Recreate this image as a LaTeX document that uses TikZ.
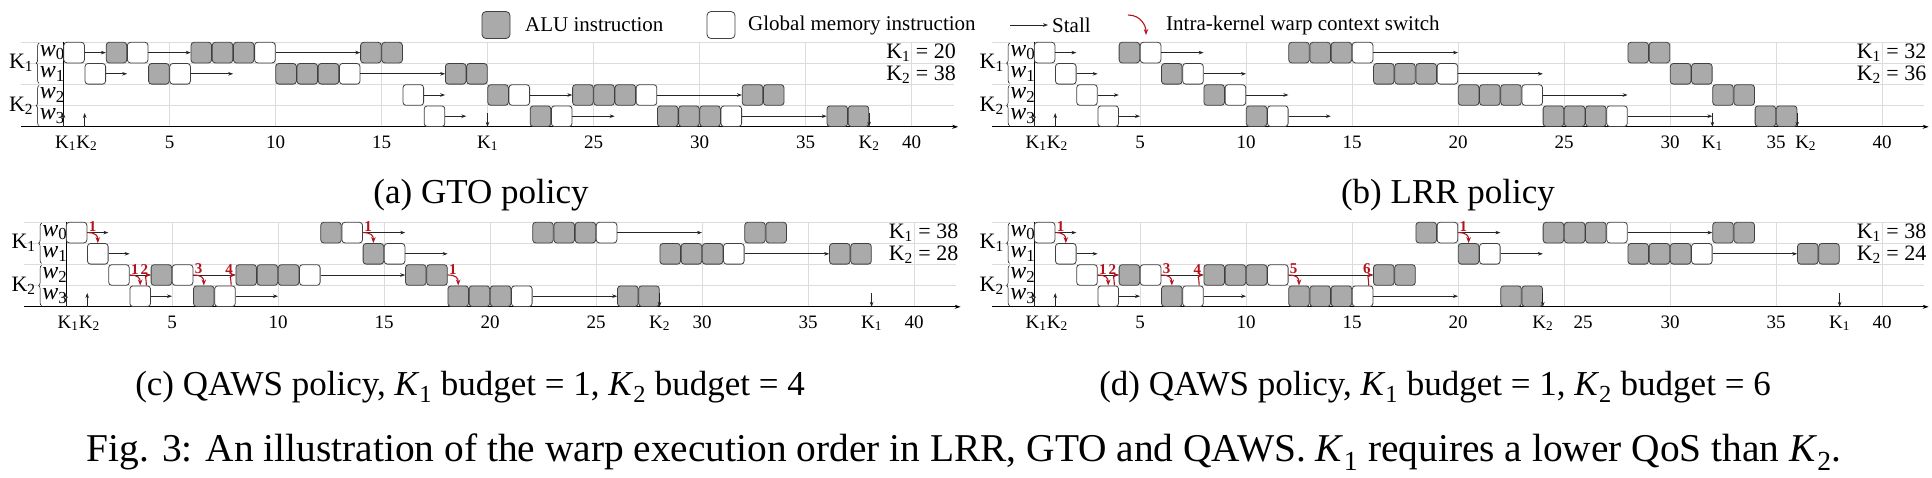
\documentclass[tikz,border=0pt]{standalone}
\usepackage{fontspec}
\setmainfont{Liberation Serif}
\usetikzlibrary{arrows.meta}
\usetikzlibrary{decorations.pathreplacing}

\definecolor{alufill}{HTML}{AAAAAA}
\definecolor{swred}{HTML}{B3121D}
\definecolor{gridgray}{HTML}{DCDCDC}

\tikzset{
  slot/.style={draw=black!75, line width=0.8pt, rounded corners=3pt, minimum size=20.6pt, inner sep=0pt},
  alubox/.style={slot, fill=alufill},
  membox/.style={slot, fill=white},
  stall/.style={-{Stealth[length=5pt,width=3.6pt]}, black!85, line width=0.7pt},
  switch/.style={-{Stealth[length=6pt,width=4.5pt]}, swred, line width=1.1pt},
  swnum/.style={swred, font=\fontsize{15}{15}\selectfont\bfseries, inner sep=0pt},
  ticklab/.style={font=\fontsize{19}{19}\selectfont, inner sep=0pt, anchor=base},
  rowlab/.style={font=\fontsize{24}{24}\selectfont, inner sep=0pt, anchor=west},
  kerlab/.style={font=\fontsize{22}{22}\selectfont, inner sep=0pt, anchor=east},
  budget/.style={font=\fontsize{22}{22}\selectfont, inner sep=0pt, anchor=east},
  legtext/.style={font=\fontsize{21}{21}\selectfont, inner sep=0pt, anchor=west},
  subcap/.style={font=\fontsize{35}{35}\selectfont, inner sep=0pt},
  frame/.style={gridgray, line width=0.8pt}
}

\begin{document}
\begin{tikzpicture}[x=1pt, y=-1pt]
\useasboundingbox (0,0) rectangle (1932,477);

% legend
\node[alubox, minimum width=28pt, minimum height=27pt, rounded corners=4pt] (lg-alu) at (496,25) {};
\node[legtext] (lg-alut) at (525,25) {ALU instruction};
\node[membox, minimum width=28pt, minimum height=27pt, rounded corners=4pt] (lg-mem) at (721,25) {};
\node[legtext] (lg-memt) at (748,25) {Global memory instruction};
\coordinate (lg-s) at (1010,25);
\node[legtext] (lg-stall) at (1052,25) {Stall};
\draw[stall, shorten >=4pt] (lg-s) -- (lg-stall.west);
\coordinate (lg-r1) at (1128,15);
\coordinate (lg-r2) at (1146,35);
\draw[switch] (lg-r1) .. controls +(13,0) and +(0,-9) .. (lg-r2);
\node[legtext] (lg-sw) at (1166,25) {Intra-kernel warp context switch};

% common frame of the four panels
\foreach \p/\ox/\oy/\ticks in {a/63.5/42/{5/5,10/10,15/15,25/25,30/30,35/35,40/40},
    b/1034/42/{5/5,10/10,15/15,20/20,25/25,30/30,35/35,40/40},
    c/66/222/{5/5,10/10,15/15,20/20,25/25,30/30,35/35,40/40},
    d/1034/222/{5/5,10/10,15/15,20/20,25/25.9,30/30,35/35,40/40}}{
\begin{scope}[shift={(\ox,\oy)}, x=21.2pt, y=-21.2pt]
  \foreach \r in {0,...,3} \draw[frame] (-2,\r) -- (42,\r);
  \foreach \t in {5,10,...,40} \draw[frame] (\t,0) -- (\t,4);
  \draw[line width=0.8pt, -{Stealth[length=6pt,width=4pt]}] (-2,4) -- (42.2,4);
  \draw[line width=0.8pt] (0,0) -- (0,4);
  \draw[stall] (0,4) -- (0,3.35);
  \draw[stall] (1,4) -- (1,3.35);
  \node[ticklab] (\p-in1) at (0.1,5) {K\textsubscript{1}};
  \node[ticklab] (\p-in2) at (1.1,5) {K\textsubscript{2}};
  \foreach \v/\x in \ticks \node[ticklab] (\p-t\v) at (\x,5) {\v};
  \node[kerlab] (\p-k1) at (-1.42,1) {K\textsubscript{1}};
  \node[kerlab] (\p-k2) at (-1.42,3) {K\textsubscript{2}};
  \draw[decorate, decoration={brace, amplitude=3pt}, line width=0.5pt] (-1.15,1.95) -- (-1.15,0.05);
  \draw[decorate, decoration={brace, amplitude=3pt}, line width=0.5pt] (-1.15,3.95) -- (-1.15,2.05);
  \foreach \r in {0,...,3} \node[rowlab] (\p-w\r) at (-1.12,\r+0.5) {\textit{w}\textsubscript{\r}};
\end{scope}
}

% (a) GTO
\begin{scope}[shift={(63.5,42)}, x=21.2pt, y=-21.2pt]
\foreach \r/\t in {0/2,0/6,0/7,0/8,0/14,0/15,1/4,1/10,1/11,1/12,1/18,1/19,
    2/20,2/24,2/25,2/26,2/32,2/33,3/22,3/28,3/29,3/30,3/36,3/37}
  \node[alubox] (a-\r-\t) at (\t+0.5,\r+0.5) {};
\foreach \r/\t in {0/0,0/3,0/9,1/1,1/5,1/13,2/16,2/21,2/27,3/17,3/23,3/31}
  \node[membox] (a-\r-\t) at (\t+0.5,\r+0.5) {};
\foreach \r/\s/\e [evaluate=\s as \b using int(\s-1)] in {0/1/2,0/4/6,0/10/14,1/2/3,1/6/8,1/14/18,
    2/17/18,2/22/24,2/28/32,3/18/19,3/24/26,3/32/36}{
  \coordinate (a-s\r-\e) at (\e,\r+0.5);
  \draw[stall] (a-\r-\b.east) -- (a-s\r-\e);
}
\draw[stall] (20,3.35) -- (20,4);
\draw[stall] (38,3.35) -- (38,4);
\node[ticklab] (a-f1) at (20,5) {K\textsubscript{1}};
\node[ticklab] (a-f2) at (38,5) {K\textsubscript{2}};
\node[budget] (a-b1) at (42.1,0.5) {K\textsubscript{1} = 20};
\node[budget] (a-b2) at (42.1,1.55) {K\textsubscript{2} = 38};
\end{scope}

% (b) LRR
\begin{scope}[shift={(1034,42)}, x=21.2pt, y=-21.2pt]
\foreach \r/\t in {0/4,0/12,0/13,0/14,0/28,0/29,1/6,1/16,1/17,1/18,1/30,1/31,
    2/8,2/20,2/21,2/22,2/32,2/33,3/10,3/24,3/25,3/26,3/34,3/35}
  \node[alubox] (b-\r-\t) at (\t+0.5,\r+0.5) {};
\foreach \r/\t in {0/0,0/5,0/15,1/1,1/7,1/19,2/2,2/9,2/23,3/3,3/11,3/27}
  \node[membox] (b-\r-\t) at (\t+0.5,\r+0.5) {};
\foreach \r/\s/\e [evaluate=\s as \b using int(\s-1)] in {0/1/2,0/6/8,0/16/20,1/2/3,1/8/10,1/20/24,
    2/3/4,2/10/12,2/24/28,3/4/5,3/12/14,3/28/32}{
  \coordinate (b-s\r-\e) at (\e,\r+0.5);
  \draw[stall] (b-\r-\b.east) -- (b-s\r-\e);
}
\draw[stall] (32,3.35) -- (32,4);
\draw[stall] (36,3.35) -- (36,4);
\node[ticklab] (b-f1) at (32,5) {K\textsubscript{1}};
\node[ticklab] (b-f2) at (36.4,5) {K\textsubscript{2}};
\node[budget] (b-b1) at (42.1,0.5) {K\textsubscript{1} = 32};
\node[budget] (b-b2) at (42.1,1.55) {K\textsubscript{2} = 36};
\end{scope}

% (c) QAWS, budgets 1 and 4
\begin{scope}[shift={(66,222)}, x=21.2pt, y=-21.2pt]
\foreach \r/\t in {0/12,0/22,0/23,0/24,0/32,0/33,1/14,1/28,1/29,1/30,1/36,1/37,
    2/4,2/8,2/9,2/10,2/16,2/17,3/6,3/18,3/19,3/20,3/26,3/27}
  \node[alubox] (c-\r-\t) at (\t+0.5,\r+0.5) {};
\foreach \r/\t in {0/0,0/13,0/25,1/1,1/15,1/31,2/2,2/5,2/11,3/3,3/7,3/21}
  \node[membox] (c-\r-\t) at (\t+0.5,\r+0.5) {};
\foreach \r/\s/\e [evaluate=\s as \b using int(\s-1)] in {0/1/2,0/14/16,0/26/30,1/2/3,1/16/18,1/32/36,
    2/3/4,2/6/8,2/12/16,3/4/5,3/8/10,3/22/26}{
  \coordinate (c-s\r-\e) at (\e,\r+0.5);
  \draw[stall] (c-\r-\b.east) -- (c-s\r-\e);
}
\foreach \r/\t/\n [evaluate=\t as \b using int(\t-1), evaluate=\r as \q using int(\r+1)]
    in {0/1/1,2/3/1,2/6/3,0/14/1,2/18/1}{
  \draw[switch] (c-\r-\b.east) .. controls +(0.4,0) and +(0,-0.35) .. (c-\q-\t.north);
  \node[swnum] (c-n\r-\t) at (\t+0.25,\r+0.22) {\n};
}
\foreach \t/\n [evaluate=\t as \b using int(\t-1)] in {4/2,8/4}{
  \draw[switch] (c-3-\b.60) .. controls +(0,-0.3) and +(-0.3,0) .. (c-2-\t.west);
  \node[swnum] (c-u\t) at (\t-0.3,2.22) {\n};
}
\draw[stall] (28,3.35) -- (28,4);
\draw[stall] (38,3.35) -- (38,4);
\node[ticklab] (c-f2) at (28,5) {K\textsubscript{2}};
\node[ticklab] (c-f1) at (38,5) {K\textsubscript{1}};
\node[budget] (c-b1) at (42.1,0.5) {K\textsubscript{1} = 38};
\node[budget] (c-b2) at (42.1,1.55) {K\textsubscript{2} = 28};
\end{scope}

% (d) QAWS, budgets 1 and 6
\begin{scope}[shift={(1034,222)}, x=21.2pt, y=-21.2pt]
\foreach \r/\t in {0/18,0/24,0/25,0/26,0/32,0/33,1/20,1/28,1/29,1/30,1/36,1/37,
    2/4,2/8,2/9,2/10,2/16,2/17,3/6,3/12,3/13,3/14,3/22,3/23}
  \node[alubox] (d-\r-\t) at (\t+0.5,\r+0.5) {};
\foreach \r/\t in {0/0,0/19,0/27,1/1,1/21,1/31,2/2,2/5,2/11,3/3,3/7,3/15}
  \node[membox] (d-\r-\t) at (\t+0.5,\r+0.5) {};
\foreach \r/\s/\e [evaluate=\s as \b using int(\s-1)] in {0/1/2,0/20/22,0/28/32,1/2/3,1/22/24,1/32/36,
    2/3/4,2/6/8,2/12/16,3/4/5,3/8/10,3/16/20}{
  \coordinate (d-s\r-\e) at (\e,\r+0.5);
  \draw[stall] (d-\r-\b.east) -- (d-s\r-\e);
}
\foreach \r/\t/\n [evaluate=\t as \b using int(\t-1), evaluate=\r as \q using int(\r+1)]
    in {0/1/1,2/3/1,2/6/3,2/12/5,0/20/1}{
  \draw[switch] (d-\r-\b.east) .. controls +(0.4,0) and +(0,-0.35) .. (d-\q-\t.north);
  \node[swnum] (d-n\r-\t) at (\t+0.25,\r+0.22) {\n};
}
\foreach \t/\n [evaluate=\t as \b using int(\t-1)] in {4/2,8/4,16/6}{
  \draw[switch] (d-3-\b.60) .. controls +(0,-0.3) and +(-0.3,0) .. (d-2-\t.west);
  \node[swnum] (d-u\t) at (\t-0.3,2.22) {\n};
}
\draw[stall] (24,3.35) -- (24,4);
\draw[stall] (38,3.35) -- (38,4);
\node[ticklab] (d-f2) at (24,5) {K\textsubscript{2}};
\node[ticklab] (d-f1) at (38,5) {K\textsubscript{1}};
\node[budget] (d-b1) at (42.1,0.5) {K\textsubscript{1} = 38};
\node[budget] (d-b2) at (42.1,1.55) {K\textsubscript{2} = 24};
\end{scope}

% captions
\node[subcap] (cap-a) at (481,195) {(a) GTO policy};
\node[subcap] (cap-b) at (1448,195) {(b) LRR policy};
\node[subcap] (cap-c) at (470,387) {(c) QAWS policy, \textit{K}\textsubscript{1} budget = 1, \textit{K}\textsubscript{2} budget = 4};
\node[subcap] (cap-d) at (1435,387) {(d) QAWS policy, \textit{K}\textsubscript{1} budget = 1, \textit{K}\textsubscript{2} budget = 6};
\node[font=\fontsize{39.4}{39.4}\selectfont, inner sep=0pt] (cap-fig) at (964,452) {Fig. 3: An illustration of the warp execution order in LRR, GTO and QAWS. \textit{K}\textsubscript{1} requires a lower QoS than \textit{K}\textsubscript{2}.};
\end{tikzpicture}
\end{document}
